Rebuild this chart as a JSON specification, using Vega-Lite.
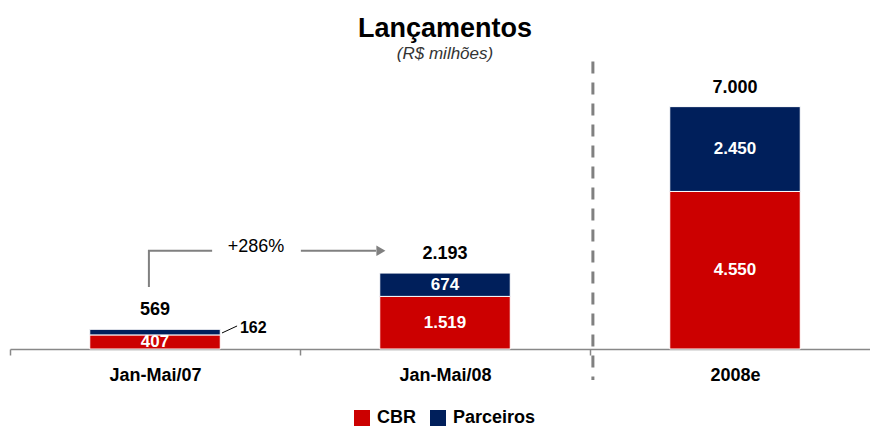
{
  "$schema": "https://vega.github.io/schema/vega-lite/v6.json",
  "autosize": {"type": "none"},
  "padding": {"left": 10, "top": 72, "right": 0, "bottom": 78},
  "width": 870,
  "height": 277,
  "background": "white",
  "title": {
    "text": "Lançamentos",
    "subtitle": "(R$ milhões)",
    "font": "Liberation Sans",
    "fontSize": 27,
    "fontWeight": "bold",
    "color": "black",
    "subtitleFont": "Liberation Sans",
    "subtitleFontSize": 17,
    "subtitleFontStyle": "italic",
    "subtitleColor": "#333333",
    "anchor": "middle",
    "offset": -3,
    "subtitlePadding": 3
  },
  "datasets": {
    "main": [
      {"cat": "Jan-Mai/07", "series": "CBR", "value": 407, "label": "407"},
      {"cat": "Jan-Mai/07", "series": "Parceiros", "value": 162, "label": "162"},
      {"cat": "Jan-Mai/08", "series": "CBR", "value": 1519, "label": "1.519"},
      {"cat": "Jan-Mai/08", "series": "Parceiros", "value": 674, "label": "674"},
      {"cat": "2008e", "series": "CBR", "value": 4550, "label": "4.550"},
      {"cat": "2008e", "series": "Parceiros", "value": 2450, "label": "2.450"}
    ],
    "totals": [
      {"cat": "Jan-Mai/07", "total": 569, "label": "569"},
      {"cat": "Jan-Mai/08", "total": 2193, "label": "2.193"},
      {"cat": "2008e", "total": 7000, "label": "7.000"}
    ],
    "arrow": [
      {"seg": "a", "ord": 1, "x": 0.479, "y": 1793},
      {"seg": "a", "ord": 2, "x": 0.479, "y": 2835},
      {"seg": "a", "ord": 3, "x": 0.697, "y": 2835},
      {"seg": "b", "ord": 1, "x": 1.003, "y": 2835},
      {"seg": "b", "ord": 2, "x": 1.262, "y": 2835}
    ],
    "head": [{"x": 1.279, "y": 2835}],
    "leader": [
      {"ord": 1, "x": 0.731, "y": 463},
      {"ord": 2, "x": 0.783, "y": 665}
    ],
    "note": [{"x": 0.848, "y": 2948, "text": "+286%"}],
    "outside": [{"x": 0.793, "y": 607, "text": "162"}],
    "divider": [{"x": 2.01, "y": 8302, "y2": -897}]
  },
  "layer": [
    {
      "layer": [
        {
          "data": {"name": "main"},
          "mark": {"type": "bar", "stroke": "white", "strokeWidth": 1},
          "encoding": {
            "x": {
              "field": "cat", "type": "nominal", "sort": null,
              "scale": {"paddingInner": 0.55, "paddingOuter": 0.275},
              "axis": {
                "title": null, "labelAngle": 0,
                "domainColor": "#888888", "domainWidth": 1.5,
                "tickColor": "#888888", "tickWidth": 1.5, "tickSize": 6,
                "bandPosition": 0, "tickOffset": -79.75, "labelOffset": 79.75,
                "labelFont": "Liberation Sans", "labelFontSize": 18,
                "labelFontWeight": "bold", "labelColor": "black",
                "labelPadding": 11
              }
            },
            "y": {
              "field": "value", "type": "quantitative", "stack": "zero",
              "scale": {"domain": [0, 8000]}, "axis": null
            },
            "order": {"field": "series", "type": "nominal", "sort": "ascending"},
            "color": {
              "field": "series", "type": "nominal",
              "scale": {"domain": ["CBR", "Parceiros"], "range": ["#CC0000", "#001F5B"]},
              "legend": {
                "title": null, "orient": "none", "direction": "horizontal",
                "legendX": 343, "legendY": 337,
                "symbolType": "square", "symbolSize": 256, "symbolStrokeWidth": 0,
                "labelFont": "Liberation Sans", "labelFontSize": 18,
                "labelFontWeight": "bold", "labelColor": "black",
                "labelOffset": 6, "columnPadding": 13
              }
            }
          }
        },
        {
          "data": {"name": "main"},
          "transform": [{"filter": "datum.value > 300"}],
          "mark": {"type": "text", "color": "white", "fontWeight": "bold", "fontSize": 17, "font": "Liberation Sans", "baseline": "middle"},
          "encoding": {
            "x": {"field": "cat", "type": "nominal", "sort": null},
            "y": {"field": "value", "type": "quantitative", "stack": "zero", "bandPosition": 0.5, "scale": {"domain": [0, 8000]}, "axis": null},
            "detail": {"field": "series", "type": "nominal"},
            "order": {"field": "series", "type": "nominal", "sort": "ascending"},
            "text": {"field": "label", "type": "nominal"}
          }
        },
        {
          "data": {"name": "totals"},
          "mark": {"type": "text", "color": "black", "fontWeight": "bold", "fontSize": 18, "font": "Liberation Sans", "baseline": "middle", "dy": -19},
          "encoding": {
            "x": {"field": "cat", "type": "nominal", "sort": null},
            "y": {"field": "total", "type": "quantitative", "scale": {"domain": [0, 8000]}, "axis": null},
            "text": {"field": "label", "type": "nominal"}
          }
        }
      ]
    },
    {
      "layer": [
        {
          "data": {"name": "divider"},
          "mark": {"type": "rule", "color": "#808080", "strokeWidth": 3, "strokeDash": [12, 9]},
          "encoding": {
            "x": {"field": "x", "type": "quantitative", "scale": {"domain": [0, 3], "nice": false, "zero": false}, "axis": null},
            "y": {"field": "y", "type": "quantitative", "scale": {"domain": [0, 8000]}, "axis": null},
            "y2": {"field": "y2"}
          }
        },
        {
          "data": {"name": "arrow"},
          "mark": {"type": "line", "color": "#808080", "strokeWidth": 2},
          "encoding": {
            "x": {"field": "x", "type": "quantitative", "scale": {"domain": [0, 3], "nice": false, "zero": false}, "axis": null},
            "y": {"field": "y", "type": "quantitative", "scale": {"domain": [0, 8000]}, "axis": null},
            "detail": {"field": "seg", "type": "nominal"},
            "order": {"field": "ord", "type": "quantitative"}
          }
        },
        {
          "data": {"name": "head"},
          "mark": {"type": "point", "shape": "triangle-right", "filled": true, "color": "#808080", "size": 110, "opacity": 1},
          "encoding": {
            "x": {"field": "x", "type": "quantitative", "scale": {"domain": [0, 3], "nice": false, "zero": false}, "axis": null},
            "y": {"field": "y", "type": "quantitative", "scale": {"domain": [0, 8000]}, "axis": null}
          }
        },
        {
          "data": {"name": "leader"},
          "mark": {"type": "line", "color": "black", "strokeWidth": 1},
          "encoding": {
            "x": {"field": "x", "type": "quantitative", "scale": {"domain": [0, 3], "nice": false, "zero": false}, "axis": null},
            "y": {"field": "y", "type": "quantitative", "scale": {"domain": [0, 8000]}, "axis": null},
            "order": {"field": "ord", "type": "quantitative"}
          }
        },
        {
          "data": {"name": "note"},
          "mark": {"type": "text", "color": "black", "fontSize": 18, "font": "Liberation Sans", "baseline": "middle", "align": "center"},
          "encoding": {
            "x": {"field": "x", "type": "quantitative", "scale": {"domain": [0, 3], "nice": false, "zero": false}, "axis": null},
            "y": {"field": "y", "type": "quantitative", "scale": {"domain": [0, 8000]}, "axis": null},
            "text": {"field": "text", "type": "nominal"}
          }
        },
        {
          "data": {"name": "outside"},
          "mark": {"type": "text", "color": "black", "fontSize": 16, "fontWeight": "bold", "font": "Liberation Sans", "baseline": "middle", "align": "left"},
          "encoding": {
            "x": {"field": "x", "type": "quantitative", "scale": {"domain": [0, 3], "nice": false, "zero": false}, "axis": null},
            "y": {"field": "y", "type": "quantitative", "scale": {"domain": [0, 8000]}, "axis": null},
            "text": {"field": "text", "type": "nominal"}
          }
        }
      ]
    }
  ],
  "resolve": {"scale": {"x": "independent"}},
  "config": {
    "view": {"stroke": null}
  }
}
